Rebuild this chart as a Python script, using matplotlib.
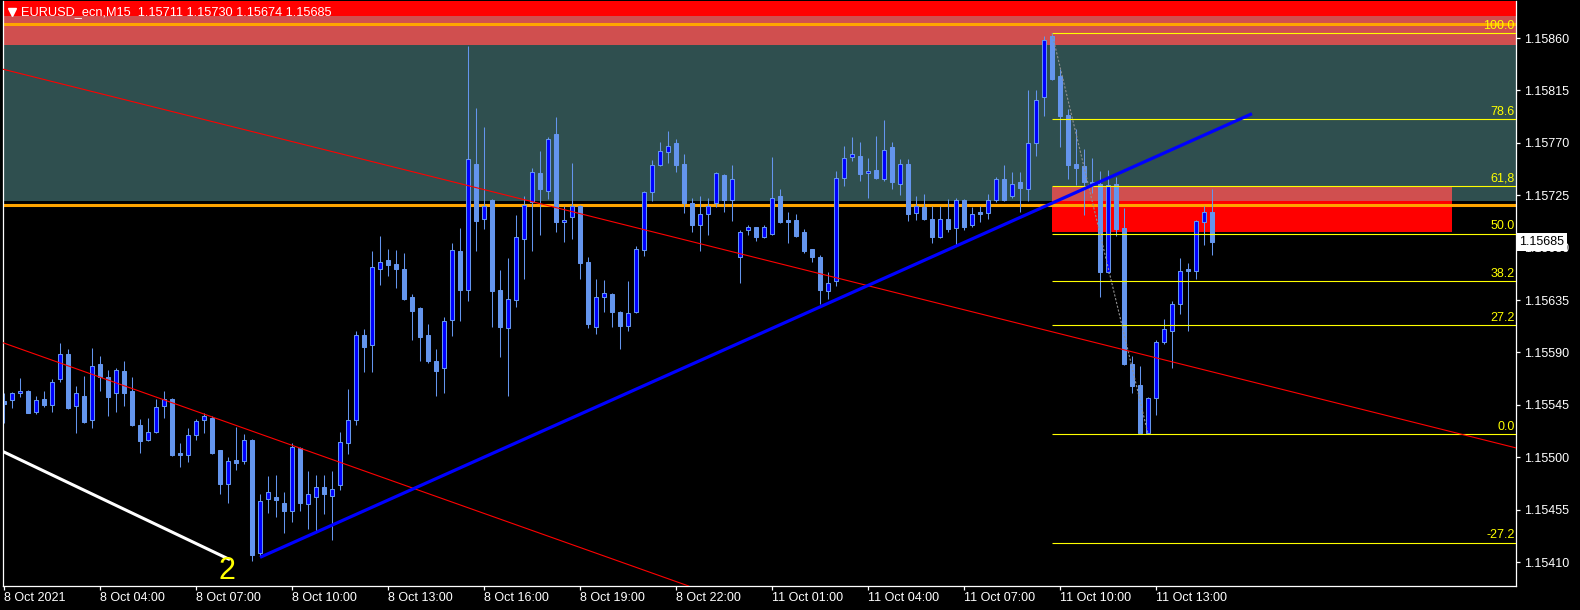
import matplotlib
matplotlib.use('Agg')
import matplotlib.pyplot as plt
import matplotlib.transforms as mtransforms
from matplotlib.patches import Rectangle

plt.rcParams['font.family'] = ['Liberation Sans', 'DejaVu Sans']

# EURUSD_ecn M15, one value per bar (bar index 0 = 8 Oct 01:00)
opens = [1.15548, 1.15549, 1.15555, 1.15557, 1.15539, 1.15550, 1.15545, 1.15567, 1.15589, 1.15544,
         1.15553, 1.15532, 1.15580, 1.15569, 1.15555, 1.15574, 1.15557, 1.15528, 1.15515, 1.15522,
         1.15544, 1.15550, 1.15504, 1.15502, 1.15519, 1.15532, 1.15534, 1.15506, 1.15477, 1.15498,
         1.15497, 1.15515, 1.15418, 1.15464, 1.15466, 1.15461, 1.15454, 1.15508, 1.15460, 1.15466,
         1.15474, 1.15467, 1.15476, 1.15512, 1.15532, 1.15605, 1.15596, 1.15662, 1.15669, 1.15666,
         1.15662, 1.15638, 1.15628, 1.15605, 1.15583, 1.15577, 1.15618, 1.15677, 1.15644, 1.15752,
         1.15705, 1.15721, 1.15644, 1.15611, 1.15635, 1.15687, 1.15719, 1.15744, 1.15729, 1.15778,
         1.15702, 1.15706, 1.15716, 1.15668, 1.15612, 1.15638, 1.15640, 1.15625, 1.15613, 1.15625,
         1.15678, 1.15728, 1.15751, 1.15762, 1.15770, 1.15752, 1.15718, 1.15699, 1.15709, 1.15718,
         1.15742, 1.15721, 1.15672, 1.15695, 1.15698, 1.15689, 1.15692, 1.15724, 1.15704, 1.15704,
         1.15693, 1.15679, 1.15672, 1.15643, 1.15651, 1.15740, 1.15758, 1.15759, 1.15744, 1.15747,
         1.15739, 1.15766, 1.15735, 1.15752, 1.15710, 1.15715, 1.15705, 1.15689, 1.15705, 1.15697,
         1.15721, 1.15699, 1.15711, 1.15710, 1.15721, 1.15739, 1.15724, 1.15736, 1.15730, 1.15770,
         1.15809, 1.15862, 1.15827, 1.15794, 1.15752, 1.15750, 1.15736, 1.15735, 1.15659, 1.15735,
         1.15697, 1.15580, 1.15562, 1.15521, 1.15551, 1.15599, 1.15608, 1.15632, 1.15662, 1.15660,
         1.15702, 1.15711]
highs = [1.15555, 1.15556, 1.15568, 1.15558, 1.15553, 1.15557, 1.15567, 1.15598, 1.15593, 1.15561,
         1.15570, 1.15594, 1.15587, 1.15575, 1.15577, 1.15583, 1.15569, 1.15533, 1.15534, 1.15550,
         1.15557, 1.15551, 1.15512, 1.15525, 1.15533, 1.15538, 1.15535, 1.15506, 1.15500, 1.15526,
         1.15520, 1.15516, 1.15468, 1.15484, 1.15485, 1.15470, 1.15512, 1.15509, 1.15488, 1.15485,
         1.15485, 1.15488, 1.15522, 1.15559, 1.15608, 1.15610, 1.15677, 1.15690, 1.15679, 1.15678,
         1.15675, 1.15640, 1.15629, 1.15614, 1.15593, 1.15620, 1.15684, 1.15697, 1.15853, 1.15800,
         1.15784, 1.15722, 1.15661, 1.15671, 1.15708, 1.15724, 1.15748, 1.15763, 1.15775, 1.15792,
         1.15716, 1.15753, 1.15717, 1.15672, 1.15653, 1.15652, 1.15641, 1.15626, 1.15651, 1.15681,
         1.15729, 1.15755, 1.15771, 1.15780, 1.15773, 1.15760, 1.15723, 1.15724, 1.15723, 1.15745,
         1.15743, 1.15751, 1.15695, 1.15699, 1.15698, 1.15699, 1.15758, 1.15730, 1.15711, 1.15709,
         1.15696, 1.15679, 1.15674, 1.15659, 1.15746, 1.15767, 1.15775, 1.15771, 1.15757, 1.15776,
         1.15790, 1.15771, 1.15756, 1.15756, 1.15724, 1.15726, 1.15716, 1.15716, 1.15722, 1.15723,
         1.15722, 1.15715, 1.15716, 1.15726, 1.15741, 1.15751, 1.15745, 1.15745, 1.15815, 1.15815,
         1.15862, 1.15864, 1.15833, 1.15799, 1.15782, 1.15765, 1.15757, 1.15746, 1.15747, 1.15741,
         1.15714, 1.15587, 1.15578, 1.15552, 1.15601, 1.15619, 1.15634, 1.15671, 1.15667, 1.15704,
         1.15716, 1.15730]
lows = [1.15529, 1.15542, 1.15552, 1.15538, 1.15537, 1.15543, 1.15539, 1.15565, 1.15541, 1.15521,
        1.15529, 1.15525, 1.15557, 1.15535, 1.15539, 1.15544, 1.15527, 1.15504, 1.15514, 1.15521,
        1.15534, 1.15501, 1.15492, 1.15496, 1.15515, 1.15521, 1.15503, 1.15468, 1.15461, 1.15489,
        1.15494, 1.15411, 1.15415, 1.15452, 1.15449, 1.15435, 1.15444, 1.15454, 1.15438, 1.15436,
        1.15451, 1.15429, 1.15472, 1.15503, 1.15528, 1.15573, 1.15573, 1.15648, 1.15656, 1.15645,
        1.15635, 1.15601, 1.15583, 1.15581, 1.15553, 1.15555, 1.15604, 1.15617, 1.15634, 1.15677,
        1.15696, 1.15612, 1.15586, 1.15553, 1.15629, 1.15653, 1.15677, 1.15691, 1.15722, 1.15693,
        1.15685, 1.15687, 1.15653, 1.15611, 1.15606, 1.15625, 1.15612, 1.15593, 1.15608, 1.15624,
        1.15673, 1.15720, 1.15750, 1.15753, 1.15745, 1.15710, 1.15693, 1.15677, 1.15691, 1.15715,
        1.15711, 1.15703, 1.15650, 1.15691, 1.15686, 1.15688, 1.15691, 1.15701, 1.15684, 1.15689,
        1.15675, 1.15668, 1.15632, 1.15636, 1.15647, 1.15733, 1.15754, 1.15737, 1.15723, 1.15739,
        1.15737, 1.15730, 1.15725, 1.15703, 1.15704, 1.15704, 1.15684, 1.15688, 1.15693, 1.15682,
        1.15695, 1.15698, 1.15702, 1.15705, 1.15719, 1.15720, 1.15723, 1.15711, 1.15720, 1.15759,
        1.15793, 1.15824, 1.15766, 1.15739, 1.15734, 1.15708, 1.15727, 1.15638, 1.15658, 1.15690,
        1.15579, 1.15555, 1.15520, 1.15520, 1.15536, 1.15597, 1.15577, 1.15623, 1.15608, 1.15653,
        1.15682, 1.15674]
closes = [1.15546, 1.15555, 1.15557, 1.15538, 1.15549, 1.15545, 1.15565, 1.15589, 1.15542, 1.15555,
          1.15530, 1.15578, 1.15569, 1.15552, 1.15575, 1.15555, 1.15528, 1.15514, 1.15522, 1.15543,
          1.15550, 1.15502, 1.15502, 1.15519, 1.15531, 1.15535, 1.15504, 1.15477, 1.15497, 1.15495,
          1.15515, 1.15416, 1.15462, 1.15470, 1.15463, 1.15454, 1.15509, 1.15461, 1.15468, 1.15474,
          1.15468, 1.15473, 1.15513, 1.15532, 1.15605, 1.15595, 1.15663, 1.15668, 1.15665, 1.15662,
          1.15636, 1.15626, 1.15603, 1.15583, 1.15574, 1.15617, 1.15678, 1.15644, 1.15756, 1.15703,
          1.15716, 1.15643, 1.15612, 1.15636, 1.15689, 1.15717, 1.15745, 1.15730, 1.15773, 1.15702,
          1.15704, 1.15716, 1.15667, 1.15614, 1.15638, 1.15641, 1.15625, 1.15613, 1.15624, 1.15679,
          1.15728, 1.15751, 1.15763, 1.15767, 1.15751, 1.15718, 1.15699, 1.15709, 1.15716, 1.15744,
          1.15721, 1.15739, 1.15693, 1.15698, 1.15689, 1.15698, 1.15723, 1.15702, 1.15702, 1.15690,
          1.15677, 1.15672, 1.15644, 1.15650, 1.15740, 1.15757, 1.15760, 1.15743, 1.15746, 1.15740,
          1.15764, 1.15736, 1.15752, 1.15709, 1.15716, 1.15705, 1.15689, 1.15705, 1.15696, 1.15721,
          1.15698, 1.15709, 1.15709, 1.15721, 1.15739, 1.15721, 1.15735, 1.15731, 1.15770, 1.15807,
          1.15858, 1.15825, 1.15793, 1.15751, 1.15748, 1.15736, 1.15735, 1.15659, 1.15734, 1.15696,
          1.15580, 1.15561, 1.15521, 1.15551, 1.15599, 1.15610, 1.15632, 1.15660, 1.15660, 1.15703,
          1.15711, 1.15685]

time_ticks = [0, 12, 24, 36, 48, 60, 72, 84, 96, 108, 120, 132, 144]
time_labels = ['8 Oct 2021', '8 Oct 04:00', '8 Oct 07:00', '8 Oct 10:00', '8 Oct 13:00',
               '8 Oct 16:00', '8 Oct 19:00', '8 Oct 22:00', '11 Oct 01:00', '11 Oct 04:00',
               '11 Oct 07:00', '11 Oct 10:00', '11 Oct 13:00']
price_ticks = [1.15410, 1.15455, 1.15500, 1.15545, 1.15590, 1.15635, 1.15680,
               1.15725, 1.15770, 1.15815, 1.15860]

# zones (price bottom, price top)
supply_zone = (1.15854, 1.15950)
slate_zone = (1.15720, 1.15879)
small_zone_bars = (131, 181)
small_zone = (1.15693, 1.15732)
orange_levels = [1.15872, 1.15717]

# fibonacci from swing high to swing low
fib_bars = (131, 143)
fib_high = 1.15864
fib_low = 1.15520
fib_levels = [100.0, 78.6, 61.8, 50.0, 38.2, 27.2, 0.0, -27.2]
fib_labels = ['100.0', '78.6', '61,8', '50.0', '38.2', '27.2', '0.0', '-27.2']

# trend lines: two anchor points (bar, price)
red_line_1 = [(0, 1.15833), (189, 1.15508)]
red_line_2 = [(0, 1.15598), (80, 1.15403)]
blue_line = [(32, 1.15414), (156, 1.15795)]
wave_line = [(-2, 1.15511), (28.25, 1.15412)]
wave_label = (27.9, 1.15402, '2')

title = 'EURUSD_ecn,M15  1.15711 1.15730 1.15674 1.15685'
last_price = closes[-1]

BULL = '#0000FF'
BEAR = '#6495ED'
RED = (255, 0, 0)
SLATE = (47, 79, 79)


def rgb(c):
    return tuple(v / 255 for v in c)


# MT4 xors overlapping filled objects
OVERLAP = tuple(a ^ b for a, b in zip(RED, SLATE))

W, H = 1580, 610
fig = plt.figure(figsize=(W / 100, H / 100), dpi=100, facecolor='black')
ax = fig.add_axes([3 / W, (H - 586) / H, (1516 - 3) / W, (586 - 1) / H])
ax.set_facecolor('black')

x_min, x_max = -0.125, 189
y_min, y_max = 1.153894, 1.158918
ax.set_xlim(x_min, x_max)
ax.set_ylim(y_min, y_max)

# zones
ax.axhspan(*slate_zone, color=rgb(SLATE), lw=0, zorder=0)
ax.axhspan(*supply_zone, color=rgb(RED), lw=0, zorder=0)
ov_lo = max(supply_zone[0], slate_zone[0])
ov_hi = min(supply_zone[1], slate_zone[1])
ax.axhspan(ov_lo, ov_hi, color=rgb(OVERLAP), lw=0, zorder=0.5)
x0, x1 = small_zone_bars
ax.add_patch(Rectangle((x0, small_zone[0]), x1 - x0, small_zone[1] - small_zone[0],
                       facecolor=rgb(RED), lw=0, zorder=0.3))
ov_lo = max(small_zone[0], slate_zone[0])
ov_hi = min(small_zone[1], slate_zone[1])
ax.add_patch(Rectangle((x0, ov_lo), x1 - x0, ov_hi - ov_lo,
                       facecolor=rgb(OVERLAP), lw=0, zorder=0.6))

for lvl in orange_levels:
    ax.axhline(lvl, color='#FFA500', lw=2.2, zorder=1)

# candles
bars = range(len(opens))
ax.vlines(list(bars), lows, highs, color=BEAR, lw=0.75, zorder=2)
for i in bars:
    o, c = opens[i], closes[i]
    bottom = min(o, c)
    height = max(abs(c - o), 0.000004)
    ax.add_patch(Rectangle((i - 0.26, bottom), 0.52, height,
                           facecolor=BULL if c > o else BEAR,
                           edgecolor=BEAR, lw=0.75, zorder=2.5))

# fibonacci
rng = fib_high - fib_low
for lvl, lab in zip(fib_levels, fib_labels):
    p = fib_low + rng * lvl / 100
    ax.hlines(p, fib_bars[0], x_max, color='#FFFF00', lw=0.8, zorder=3)
    ax.text(x_max - 0.2, p + 0.000012, lab, color='#FFFF00', fontsize=9,
            ha='right', va='bottom', zorder=5)
ax.plot(fib_bars, [fib_high, fib_low], color='#909090', lw=0.8,
        ls=(0, (2, 1.5)), zorder=3)

# trend lines
for line in (red_line_1, red_line_2):
    ax.axline(line[0], line[1], color='#FF0000', lw=0.8, zorder=3)
ax.plot(*zip(*blue_line), color='#0000FF', lw=2.3, zorder=4, solid_capstyle='butt')
ax.plot(*zip(*wave_line), color='white', lw=2.2, zorder=4, solid_capstyle='butt')
ax.text(wave_label[0], wave_label[1], wave_label[2], color='#FFFF00', fontsize=22,
        ha='center', va='center', zorder=5)

# axes styling
for sp in ax.spines.values():
    sp.set_color('white')
    sp.set_linewidth(0.9)
ax.spines['top'].set_visible(False)
ax.yaxis.tick_right()
ax.set_yticks(price_ticks)
ax.set_yticklabels([f'{p:.5f}' for p in price_ticks])
ax.set_xticks(time_ticks)
ax.set_xticklabels(time_labels, ha='left')
ax.tick_params(axis='y', colors='white', length=3, width=0.9, pad=3, labelsize=9)
ax.tick_params(axis='x', colors='white', length=3, width=0.9, pad=1.5, labelsize=9)
for lab in ax.get_xticklabels():
    lab.set_x(lab.get_position()[0])

# current price box
trans = mtransforms.blended_transform_factory(ax.transAxes, ax.transData)
ax.text(1.0018, last_price, f'{last_price:.5f}', transform=trans, color='black',
        fontsize=9, ha='left', va='center', zorder=10, clip_on=False,
        bbox=dict(facecolor='white', edgecolor='none', pad=2.2))

# title
ax.plot([9 / (1516 - 3)], [1 - 11 / 585], marker='v', color='white', markersize=6,
        transform=ax.transAxes, clip_on=False, zorder=10)
fig.text(21 / W, 1 - 12 / H, title, color='white', fontsize=9.2, ha='left', va='center')

fig.savefig('out.png', dpi=100, facecolor='black')
